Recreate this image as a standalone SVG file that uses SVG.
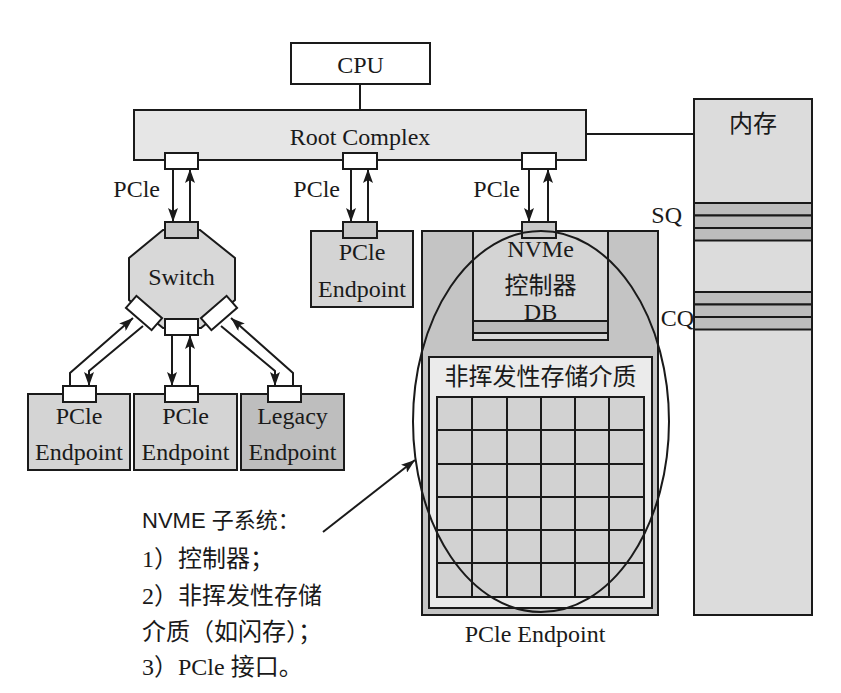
<svg xmlns="http://www.w3.org/2000/svg" width="841" height="693" viewBox="0 0 841 693">
<style>
  .box { stroke: #1a1a1a; stroke-width: 2; }
  .port { fill: #ffffff; stroke: #1a1a1a; stroke-width: 2; }
  .gport { fill: #c8c8c8; stroke: #1a1a1a; stroke-width: 2; }
  .t { font-family: "Liberation Serif", "Noto Sans CJK SC", serif; font-size: 24px; fill: #1a1a1a; }
  .c { text-anchor: middle; }
  .cjk { font-family: "Noto Sans CJK SC", sans-serif; font-size: 24px; fill: #1a1a1a; }
  .sans { font-family: "Liberation Sans", "Noto Sans CJK SC", sans-serif; font-size: 22px; fill: #1a1a1a; }
  .ln { fill: none; stroke: #1a1a1a; stroke-width: 2; }
  .arr { fill: none; stroke: #1a1a1a; stroke-width: 2; marker-end: url(#ah); }
  .grid { fill: none; stroke: #1a1a1a; stroke-width: 2; }
</style>
<defs>
  <marker id="ah" markerUnits="userSpaceOnUse" markerWidth="15" markerHeight="10" refX="14" refY="5" orient="auto">
    <path d="M0,0 L14,5 L0,10 L3,5 z" fill="#1a1a1a"/>
  </marker>
</defs>
<rect width="841" height="693" fill="#ffffff"/>

<g id="connectors">
  <line class="ln" x1="360" y1="84" x2="360" y2="110"/>
  <line class="ln" x1="586" y1="134" x2="694" y2="134"/>
  <line class="ln" x1="541" y1="340" x2="541" y2="357"/>
  <line class="arr" x1="173" y1="169" x2="173" y2="222"/>
  <line class="arr" x1="190" y1="222" x2="190" y2="169"/>
  <line class="arr" x1="351" y1="169" x2="351" y2="222"/>
  <line class="arr" x1="368" y1="222" x2="368" y2="169"/>
  <line class="arr" x1="529" y1="169" x2="529" y2="222"/>
  <line class="arr" x1="548" y1="222" x2="548" y2="169"/>
  <line class="arr" x1="172" y1="335" x2="172" y2="386"/>
  <line class="arr" x1="190" y1="386" x2="190" y2="335"/>
  <polyline class="arr" points="70,386 70,373 133,318"/>
  <polyline class="arr" points="143,326 89,371 89,386"/>
  <polyline class="arr" points="221,326 275,371 275,386"/>
  <polyline class="arr" points="293,386 293,373 231,318"/>
  <line class="arr" x1="323" y1="532" x2="415" y2="460"/>
</g>

<g id="cpu">
  <rect class="box" x="291" y="43" width="139" height="41" fill="#ffffff"/>
  <text class="t c" x="360.5" y="73">CPU</text>
</g>

<g id="root-complex">
  <rect class="box" x="134" y="110" width="452" height="50" fill="#e6e6e6"/>
  <text class="t c" x="360" y="145">Root Complex</text>
  <rect class="port" x="165" y="153" width="33" height="16"/>
  <rect class="port" x="343" y="153" width="34" height="16"/>
  <rect class="port" x="522" y="153" width="34" height="16"/>
</g>

<g id="pcie-labels">
  <text class="t" x="160" y="197" text-anchor="end">PCle</text>
  <text class="t" x="340" y="197" text-anchor="end">PCle</text>
  <text class="t" x="520" y="197" text-anchor="end">PCle</text>
</g>

<g id="switch">
  <polygon class="box" points="163,230 200,230 235,258 235,300 201,328 163,328 129,300 129,258" fill="#d8d8d8"/>
  <text class="t c" x="181.5" y="285">Switch</text>
  <rect class="gport" x="165" y="222" width="33" height="16"/>
  <rect class="port" x="165" y="319" width="33" height="16"/>
  <rect class="port" x="-17" y="-8" width="34" height="16" transform="translate(144,313) rotate(41)"/>
  <rect class="port" x="-17" y="-8" width="34" height="16" transform="translate(219,313) rotate(-41)"/>
</g>

<g id="endpoint-top">
  <rect class="box" x="311" y="231" width="102" height="76" fill="#d4d4d4"/>
  <rect class="gport" x="343" y="222" width="34" height="16"/>
  <text class="t c" x="362" y="260">PCle</text>
  <text class="t c" x="362" y="297">Endpoint</text>
</g>

<g id="endpoint-1">
  <rect class="box" x="28" y="394" width="102" height="76" fill="#d4d4d4"/>
  <rect class="port" x="63" y="386" width="33" height="16"/>
  <text class="t c" x="79" y="424">PCle</text>
  <text class="t c" x="79" y="460">Endpoint</text>
</g>

<g id="endpoint-2">
  <rect class="box" x="134" y="394" width="103" height="76" fill="#d4d4d4"/>
  <rect class="port" x="165" y="386" width="33" height="16"/>
  <text class="t c" x="185.5" y="424">PCle</text>
  <text class="t c" x="185.5" y="460">Endpoint</text>
</g>

<g id="legacy-endpoint">
  <rect class="box" x="241" y="394" width="103" height="76" fill="#bebebe"/>
  <rect class="port" x="268" y="386" width="33" height="16"/>
  <text class="t c" x="292.5" y="424">Legacy</text>
  <text class="t c" x="292.5" y="460">Endpoint</text>
</g>

<g id="nvme-endpoint">
  <rect class="box" x="422" y="231" width="236" height="384" fill="#c4c4c4"/>
  <g id="nvme-controller">
    <rect class="box" x="473" y="231" width="135" height="109" fill="#d4d4d4"/>
    <rect class="box" x="473" y="321" width="135" height="12" fill="#bbbbbb"/>
    <rect class="box" x="473" y="333" width="135" height="7" fill="#d8d8d8"/>
    <rect class="gport" x="522" y="222" width="34" height="16"/>
    <text class="t c" x="540.5" y="257">NVMe</text>
    <text class="cjk c" x="540.5" y="294">控制器</text>
    <text class="t c" x="540.5" y="320">DB</text>
  </g>
  <g id="storage">
    <rect class="box" x="429" y="357" width="223" height="251" fill="#ebebeb"/>
    <text class="cjk c" x="540.5" y="385">非挥发性存储介质</text>
    <rect x="437" y="397" width="207" height="200" fill="#d2d2d2"/>
    <path class="grid" d="M437,397 H644 V597 H437 Z M472,397 V597 M507,397 V597 M541,397 V597 M575,397 V597 M609,397 V597 M437,430 H644 M437,464 H644 M437,497 H644 M437,530 H644 M437,563 H644"/>
  </g>
  <text class="t c" x="535" y="642">PCle Endpoint</text>
</g>

<g id="memory">
  <rect class="box" x="694" y="99" width="118" height="516" fill="#dcdcdc"/>
  <text class="cjk c" x="753" y="132">内存</text>
  <rect class="box" x="694" y="203" width="118" height="12.5" fill="#bdbdbd"/>
  <rect class="box" x="694" y="215.5" width="118" height="12.5" fill="#bdbdbd"/>
  <rect class="box" x="694" y="228" width="118" height="12.5" fill="#bdbdbd"/>
  <rect class="box" x="694" y="292" width="118" height="12.5" fill="#bdbdbd"/>
  <rect class="box" x="694" y="304.5" width="118" height="12.5" fill="#bdbdbd"/>
  <rect class="box" x="694" y="317" width="118" height="12.5" fill="#bdbdbd"/>
  <text class="t" x="682" y="223" text-anchor="end">SQ</text>
  <text class="t" x="694" y="326" text-anchor="end">CQ</text>
</g>

<g id="nvme-subsystem-outline">
  <ellipse cx="541" cy="421.5" rx="128" ry="190.5" fill="none" stroke="#1a1a1a" stroke-width="2"/>
</g>

<g id="note">
  <text class="sans" x="142" y="528">NVME 子系统：</text>
  <text class="t" x="142" y="567">1）控制器；</text>
  <text class="t" x="142" y="604">2）非挥发性存储</text>
  <text class="t" x="142" y="640">介质（如闪存）；</text>
  <text class="t" x="142" y="675">3）PCle 接口。</text>
</g>
</svg>
